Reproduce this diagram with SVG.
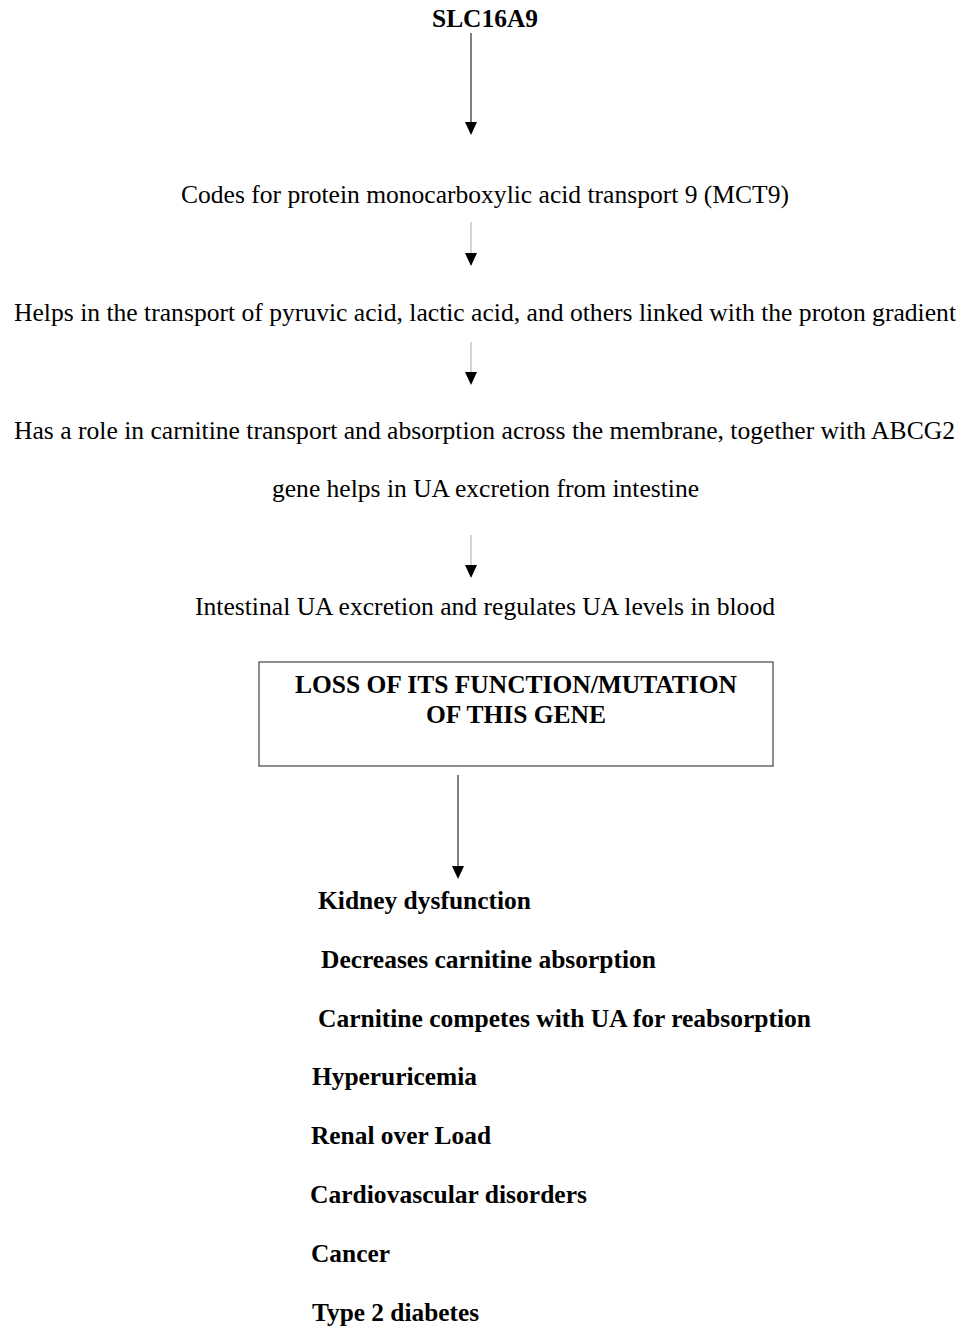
<svg xmlns="http://www.w3.org/2000/svg" width="975" height="1328" viewBox="0 0 975 1328">
<style>
text{font-family:'Liberation Serif','Times New Roman',Times,serif;font-size:25.5px;fill:#000}
.b{font-weight:bold}
.ln{stroke:#555;stroke-width:1.5;fill:none}
.lt{stroke:#bbb;stroke-width:1.2;fill:none}
.box{fill:#fff;stroke:#444;stroke-width:1.2}
.hd{fill:#000}
</style>
<rect width="975" height="1328" fill="#fff"/>
<g id="connectors">
<line class="ln" x1="471" y1="33" x2="471" y2="122"/>
<path class="hd" d="M465,122 L477,122 L471,135 Z"/>
<line class="lt" x1="471" y1="222" x2="471" y2="253"/>
<path class="hd" d="M465,253 L477,253 L471,266 Z"/>
<line class="lt" x1="471" y1="342" x2="471" y2="372"/>
<path class="hd" d="M465,372 L477,372 L471,385 Z"/>
<line class="lt" x1="471" y1="535" x2="471" y2="565"/>
<path class="hd" d="M465,565 L477,565 L471,578 Z"/>
<line class="ln" x1="458" y1="775" x2="458" y2="866"/>
<path class="hd" d="M452,866 L464,866 L458,879 Z"/>
</g>
<g id="n-slc16a9"><text class="b" x="432" y="27" textLength="106" lengthAdjust="spacingAndGlyphs">SLC16A9</text></g>
<g id="n-codes"><text x="181" y="203" textLength="608" lengthAdjust="spacingAndGlyphs">Codes for protein monocarboxylic acid transport 9 (MCT9)</text></g>
<g id="n-helps"><text x="14" y="321" textLength="942" lengthAdjust="spacingAndGlyphs">Helps in the transport of pyruvic acid, lactic acid, and others linked with the proton gradient</text></g>
<g id="n-role">
<text x="14" y="439" textLength="941" lengthAdjust="spacingAndGlyphs">Has a role in carnitine transport and absorption across the membrane, together with ABCG2</text>
<text x="272" y="497" textLength="427" lengthAdjust="spacingAndGlyphs">gene helps in UA excretion from intestine</text>
</g>
<g id="n-intestinal"><text x="195" y="615" textLength="580" lengthAdjust="spacingAndGlyphs">Intestinal UA excretion and regulates UA levels in blood</text></g>
<g id="n-loss">
<rect class="box" x="259" y="662" width="514" height="104"/>
<text class="b" x="295" y="693" textLength="442" lengthAdjust="spacingAndGlyphs">LOSS OF ITS FUNCTION/MUTATION</text>
<text class="b" x="426" y="723" textLength="180" lengthAdjust="spacingAndGlyphs">OF THIS GENE</text>
</g>
<g id="n-effects">
<text class="b" x="318" y="909" textLength="213" lengthAdjust="spacingAndGlyphs">Kidney dysfunction</text>
<text class="b" x="321" y="968" textLength="335" lengthAdjust="spacingAndGlyphs">Decreases carnitine absorption</text>
<text class="b" x="318" y="1027" textLength="493" lengthAdjust="spacingAndGlyphs">Carnitine competes with UA for reabsorption</text>
<text class="b" x="312" y="1085" textLength="165" lengthAdjust="spacingAndGlyphs">Hyperuricemia</text>
<text class="b" x="311" y="1144" textLength="180" lengthAdjust="spacingAndGlyphs">Renal over Load</text>
<text class="b" x="310" y="1203" textLength="277" lengthAdjust="spacingAndGlyphs">Cardiovascular disorders</text>
<text class="b" x="311" y="1262" textLength="79" lengthAdjust="spacingAndGlyphs">Cancer</text>
<text class="b" x="312" y="1321" textLength="167" lengthAdjust="spacingAndGlyphs">Type 2 diabetes</text>
</g>
</svg>
